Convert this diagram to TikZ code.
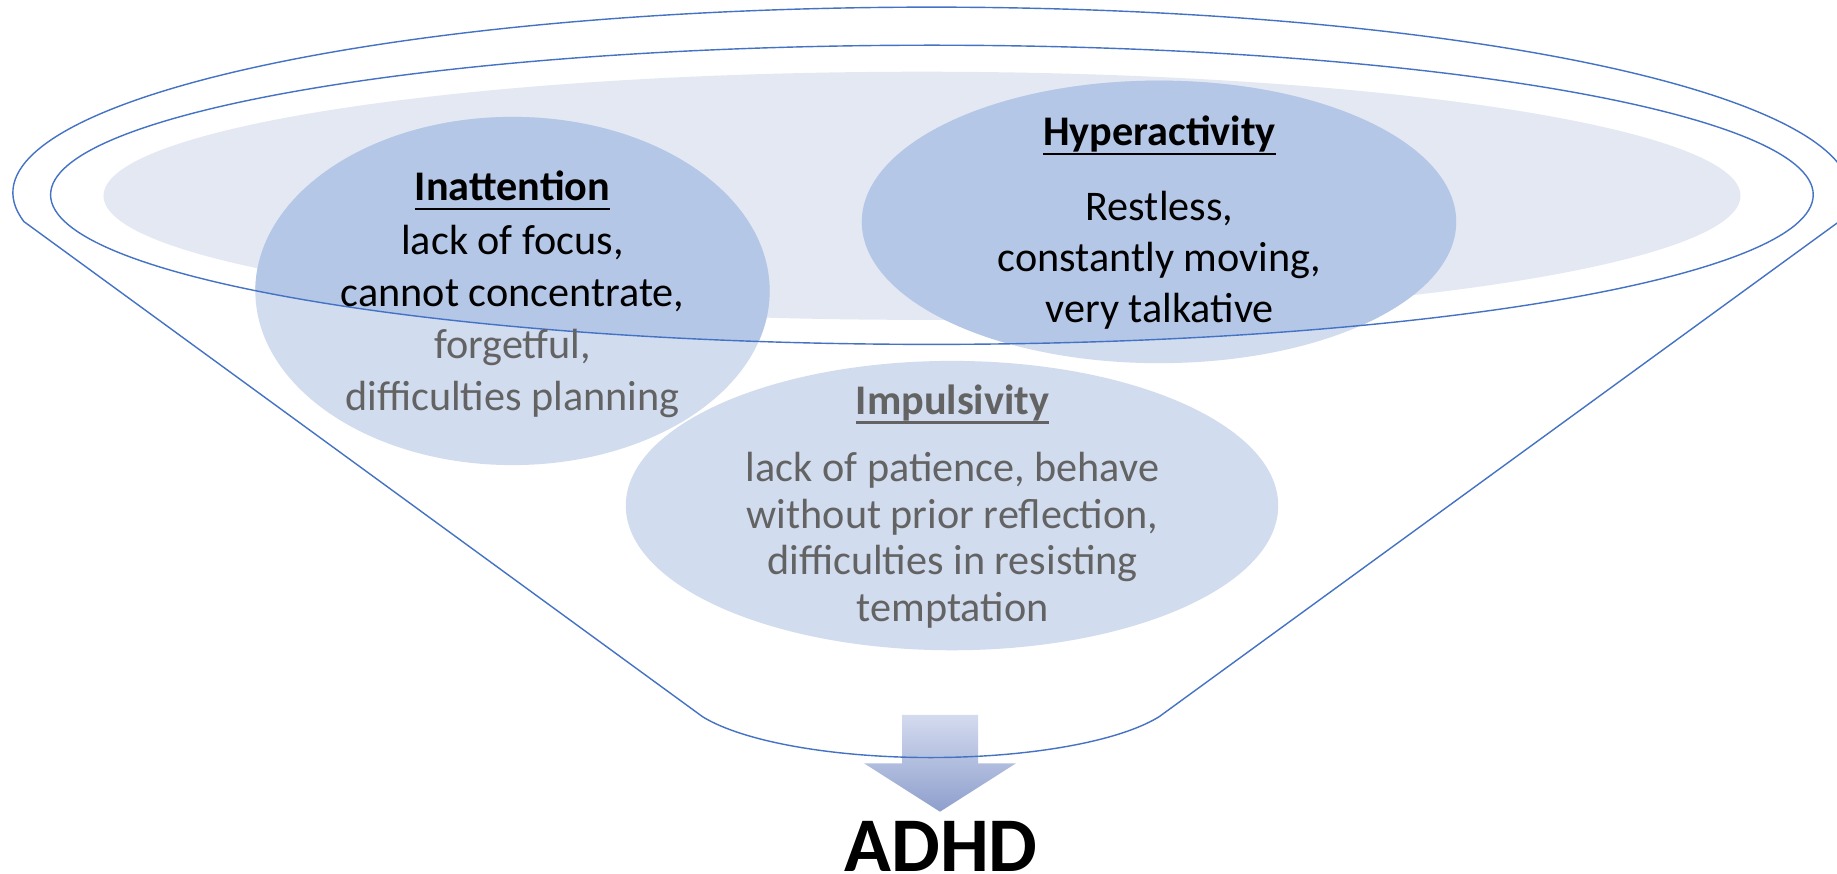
\documentclass[tikz,border=0pt]{standalone}
\usepackage{fontspec}
\setmainfont{Carlito}
\usetikzlibrary{positioning}

\definecolor{rimblue}{HTML}{4472C4}
\definecolor{bowlfill}{HTML}{E4E8F3}
\definecolor{blobdark}{HTML}{B4C7E7}
\definecolor{bloblight}{HTML}{D1DCEF}
\definecolor{softgrey}{HTML}{636363}
\definecolor{arrowtop}{HTML}{D4DBEF}
\definecolor{arrowtip}{HTML}{8E9FCD}

% underlined heading with the rule a little below the baseline
\newcommand{\underhead}[1]{\setbox0=\hbox{#1}\rlap{\rule[-2.7pt]{\wd0}{0.65pt}}\box0}

\begin{document}
\begin{tikzpicture}[x=0.01cm, y=-0.01cm,
    head/.style={font=\fontsize{12}{14}\selectfont\bfseries, inner sep=0pt, anchor=base},
    body/.style={font=\fontsize{12}{#1}\selectfont, align=center, inner sep=0pt},
    rim/.style={draw=rimblue, line width=0.4pt}]
    \useasboundingbox (0,0) rectangle (1837,874);
    \clip (0,0) rectangle (1837,874);
    \fill[white] (0,0) rectangle (1837,874);

    % pale disc at the mouth of the funnel
    \fill[bowlfill] (922,195.8) ellipse [x radius=8.18cm, y radius=1.24cm];

    % symptom blobs, darker where they lie inside the inner rim
    \fill[bloblight] (512.5,291) ellipse [x radius=2.57cm, y radius=1.74cm];
    \fill[bloblight] (1159,221.9) ellipse [x radius=2.97cm, y radius=1.412cm];
    \fill[bloblight] (952,505.6) ellipse [x radius=3.26cm, y radius=1.446cm];
    \begin{scope}
        \clip (931.9,194.8) ellipse [x radius=8.808cm, y radius=1.495cm];
        \fill[blobdark] (512.5,291) ellipse [x radius=2.57cm, y radius=1.74cm];
        \fill[blobdark] (1159,221.9) ellipse [x radius=2.97cm, y radius=1.412cm];
    \end{scope}

    % block arrow out of the spout
    \coordinate (tip) at (940,811.7);
    \shade[top color=arrowtop, bottom color=arrowtip]
        (902,715) -- (978,715) -- (978,763.3) -- (1016,763.3) -- (tip)
        -- (864,763.3) -- (902,763.3) -- cycle;

    % funnel: outer rim, cone and spout, then the inner rim
    \draw[rim] (24.05,221.7) arc[start angle=188.9, end angle=-8.9, x radius=9.18cm, y radius=1.857cm]
        -- (1159,716.8) arc[start angle=-24.2, end angle=-155.8, x radius=2.5cm, y radius=0.69cm] -- cycle;
    \draw[rim] (931.9,194.8) ellipse [x radius=8.808cm, y radius=1.495cm];

    % body text hangs from the heading; base is the last line
    \node[head] (inatt) at (512.5,200.7) {\underhead{Inattention}};
    \node[body=14.77pt, below=59.6pt of inatt.base, anchor=base] (inatt-txt)
        {lack of focus,\\cannot concentrate,\\\textcolor{softgrey}{forgetful,}\\\textcolor{softgrey}{difficulties planning}};

    \node[head] (hyper) at (1159.5,145.5) {\underhead{Hyperactivity}};
    \node[body=14.44pt, below=50.3pt of hyper.base, anchor=base] (hyper-txt)
        {Restless,\\constantly moving,\\very talkative};

    \node[head, text=softgrey] (impuls) at (952.5,414.3) {\underhead{Impulsivity}};
    \node[body=13.2pt, text=softgrey, below=58.8pt of impuls.base, anchor=base] (impuls-txt)
        {lack of patience, behave\\without prior reflection,\\difficulties in resisting\\temptation};

    \node[font=\fontsize{22}{26}\selectfont\bfseries, inner sep=0pt, anchor=base] (adhd) at (941,872) {ADHD};
\end{tikzpicture}
\end{document}
